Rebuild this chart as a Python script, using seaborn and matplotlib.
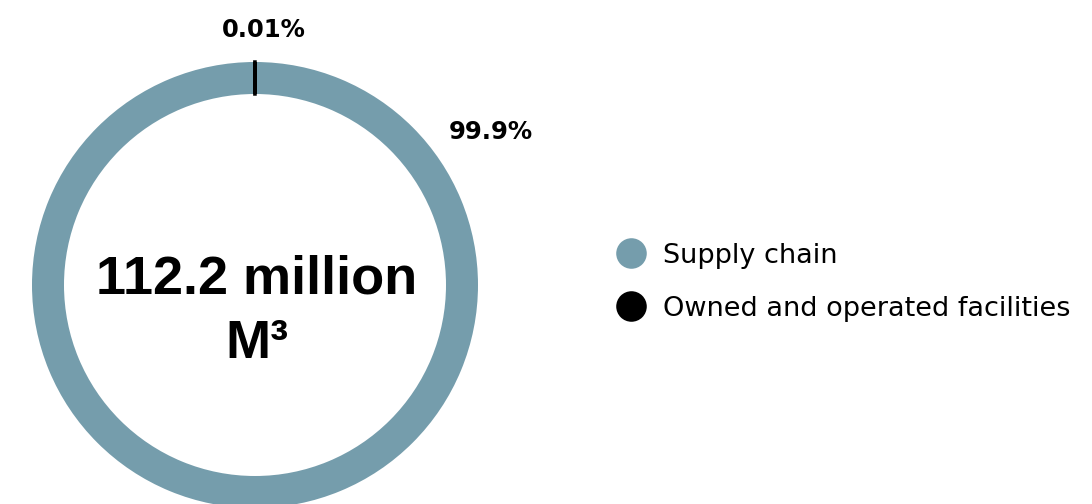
import matplotlib
matplotlib.use("Agg")
import matplotlib.pyplot as plt
from matplotlib.lines import Line2D
import seaborn as sns

# water use split
categories = ["Supply chain", "Owned and operated facilities"]
shares = [99.99, 0.01]
share_labels = ["99.9%", "0.01%"]
colors = ["#759dac", "#000000"]

sns.set_theme(style="white")
plt.rcParams["font.family"] = ["Liberation Sans", "DejaVu Sans"]
plt.rcParams["text.color"] = "black"

fig = plt.figure(figsize=(10.92, 5.04), dpi=100)
ax = fig.add_axes([0, 0, 1, 1])

wedges, _ = ax.pie(
    shares, colors=colors, startangle=90, counterclock=False,
    center=(255, 219), radius=223, frame=True,
    wedgeprops=dict(width=32, linewidth=0),
)
wedges[1].set_edgecolor("black")
wedges[1].set_linewidth(2.5)
ax.set_xlim(0, 1092)
ax.set_ylim(0, 504)
ax.set_aspect("equal")
ax.axis("off")

ax.text(491, 372, share_labels[0], ha="center", va="center",
        fontsize=17.5, fontweight="bold", family="DejaVu Sans")
ax.text(264, 474, share_labels[1], ha="center", va="center",
        fontsize=17.5, fontweight="bold", family="DejaVu Sans")

ax.text(257, 224, "112.2 million", ha="center", va="center",
        fontsize=39, fontweight="bold")
ax.text(257, 160, "M³", ha="center", va="center",
        fontsize=39, fontweight="bold")

handles = [Line2D([], [], marker="o", linestyle="", markersize=22,
                  markerfacecolor=c, markeredgewidth=0) for c in colors]
leg = ax.legend(handles, categories, loc="center left", bbox_to_anchor=(0.553, 0.44),
                frameon=False, prop={"family": "DejaVu Sans", "size": 19.5},
                handletextpad=0.6, labelspacing=1.0,
                handlelength=1.2, borderaxespad=0)
for t in leg.get_texts():
    t.set_color("black")

fig.savefig("out.png", dpi=100)
